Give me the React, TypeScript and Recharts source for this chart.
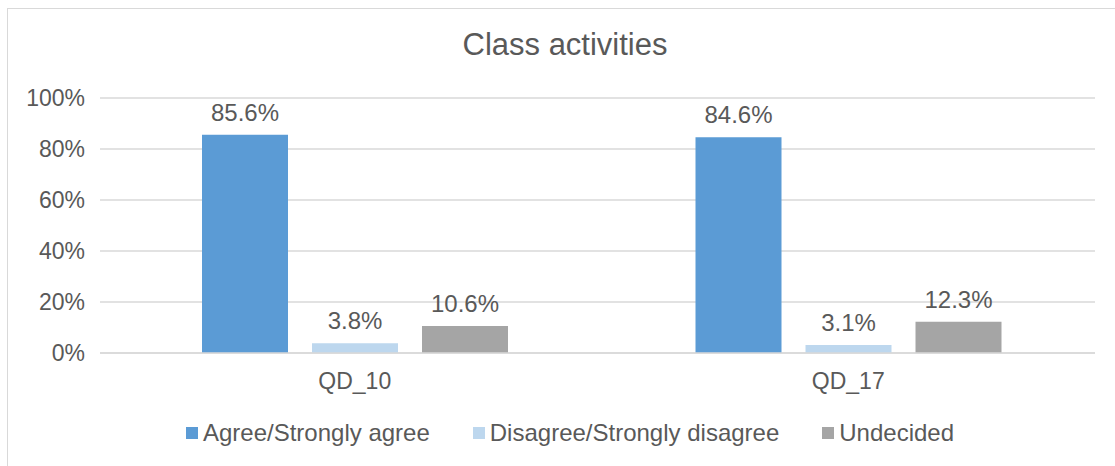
import React from "react";
import {
  BarChart,
  Bar,
  XAxis,
  YAxis,
  CartesianGrid,
  Legend,
  LabelList,
} from "recharts";

const questions = ["QD_10", "QD_17"];
const agree = [0.856, 0.846];
const disagree = [0.038, 0.031];
const undecided = [0.106, 0.123];
const yTicks = [0, 0.2, 0.4, 0.6, 0.8, 1];

const data = questions.map((q, i) => ({
  q,
  agree: agree[i],
  disagree: disagree[i],
  undecided: undecided[i],
}));

const FONT = '"Liberation Sans", Arial, sans-serif';
const TEXT = "#595959";

const pct0 = (v: number) => `${Math.round(v * 100)}%`;
const pct1 = (v: any) => `${(Number(v) * 100).toFixed(1)}%`;

// square swatch + label, spaced like an Office legend
function LegendRow(props: any) {
  const items = props.payload || [];
  return (
    <div
      style={{
        display: "flex",
        justifyContent: "center",
        alignItems: "center",
        height: 30,
        fontSize: 24,
        fontFamily: FONT,
        color: TEXT,
      }}
    >
      {items.map((it: any, i: number) => (
        <div
          key={it.value}
          style={{
            display: "flex",
            alignItems: "center",
            marginLeft: i === 0 ? 0 : 43,
          }}
        >
          <span
            style={{
              width: 12,
              height: 12,
              background: it.color,
              marginRight: 5,
              display: "inline-block",
            }}
          />
          <span>{it.value}</span>
        </div>
      ))}
    </div>
  );
}

export default function App() {
  return (
    <div
      style={{
        position: "absolute",
        left: 0,
        top: 0,
        width: 1115,
        height: 466,
        background: "#fff",
        fontFamily: FONT,
        overflow: "hidden",
      }}
    >
      <div
        style={{
          position: "absolute",
          left: 7,
          top: 8,
          width: 1120,
          height: 470,
          borderLeft: "1.5px solid #D9D9D9",
          borderTop: "1.5px solid #D9D9D9",
        }}
      />
      <div
        style={{
          position: "absolute",
          left: 0,
          top: 27,
          width: 1130,
          textAlign: "center",
          fontSize: 31,
          color: TEXT,
          lineHeight: "36px",
        }}
      >
        Class activities
      </div>
      <div style={{ position: "absolute", left: 0, top: 0 }}>
        <BarChart
          width={1115}
          height={466}
          data={data}
          margin={{ top: 98, right: 20, bottom: 18, left: 8 }}
          barGap={24}
          barSize={86}
        >
          <CartesianGrid
            vertical={false}
            stroke="#D9D9D9"
            strokeWidth={1.5}
          />
          <XAxis
            dataKey="q"
            axisLine={{ stroke: "#D9D9D9", strokeWidth: 1.5 }}
            tickLine={false}
            tickMargin={14}
            height={65}
            padding={{ left: 8, right: 0 }}
            tick={{ fill: TEXT, fontSize: 23, fontFamily: FONT }}
          />
          <YAxis
            domain={[0, 1]}
            ticks={yTicks}
            tickFormatter={pct0}
            axisLine={false}
            tickLine={false}
            tickMargin={9}
            width={92}
            tick={{ fill: TEXT, fontSize: 23, fontFamily: FONT }}
          />
          <Legend
            verticalAlign="bottom"
            align="center"
            height={30}
            content={LegendRow}
            wrapperStyle={{ left: 0, width: 1140 }}
          />
          <Bar
            dataKey="agree"
            name="Agree/Strongly agree"
            fill="#5B9BD5"
            isAnimationActive={false}
          >
            <LabelList
              dataKey="agree"
              position="top"
              offset={14}
              formatter={pct1}
              style={{ fill: TEXT, fontSize: 24, fontFamily: FONT }}
            />
          </Bar>
          <Bar
            dataKey="disagree"
            name="Disagree/Strongly disagree"
            fill="#BDD7EE"
            isAnimationActive={false}
          >
            <LabelList
              dataKey="disagree"
              position="top"
              offset={14}
              formatter={pct1}
              style={{ fill: TEXT, fontSize: 24, fontFamily: FONT }}
            />
          </Bar>
          <Bar
            dataKey="undecided"
            name="Undecided"
            fill="#A5A5A5"
            isAnimationActive={false}
          >
            <LabelList
              dataKey="undecided"
              position="top"
              offset={14}
              formatter={pct1}
              style={{ fill: TEXT, fontSize: 24, fontFamily: FONT }}
            />
          </Bar>
        </BarChart>
      </div>
    </div>
  );
}
